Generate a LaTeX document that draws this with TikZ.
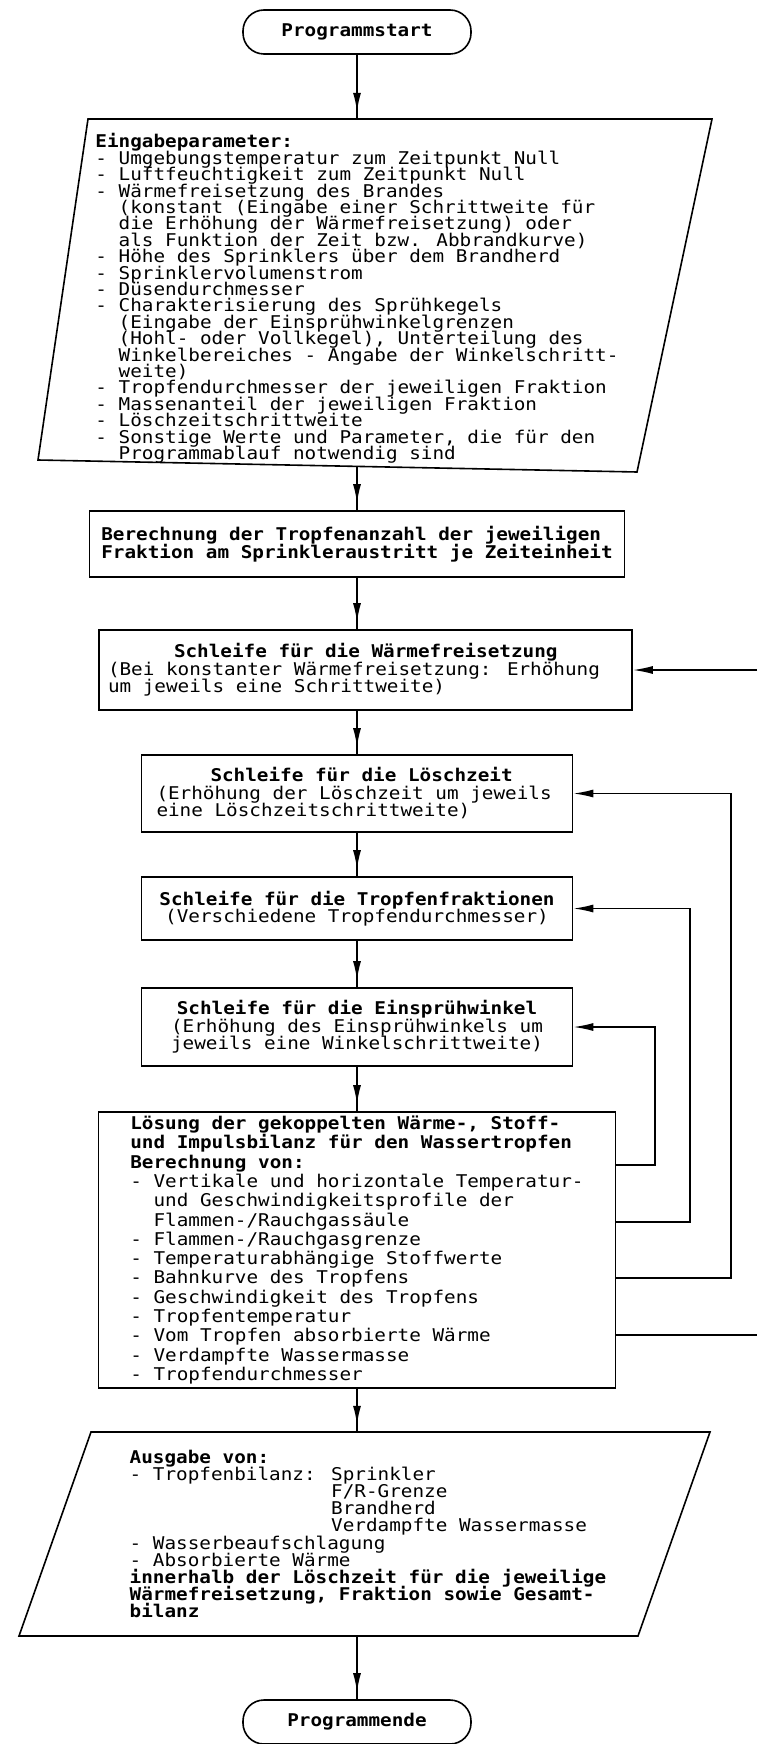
\documentclass[tikz,border=0pt]{standalone}
\usepackage{fontspec}
\setmainfont[FakeStretch=1.1]{DejaVu Sans Mono}
\usepackage{tikz}
\usetikzlibrary{arrows.meta}
\usetikzlibrary{decorations.markings}

% Plotterschrift, fester Zeilenabstand
\newcommand{\plotfont}[1]{\fontsize{17.55}{#1}\selectfont\lineskiplimit=-\maxdimen\relax}
\newcommand{\einr}{\phantom{- }}

\tikzset{
  box/.style={draw, line width=1.6pt, inner sep=0pt},
  startstop/.style={draw, line width=1.6pt, rounded corners=21pt, minimum width=228pt, minimum height=44pt},
  flowarrow/.style={line width=1.6pt, postaction={decorate},
    decoration={markings, mark=at position -7pt with {\arrow{Latex[length=19pt,width=8pt]}}}},
  backflow/.style={line width=1.6pt, -{Latex[length=20pt,width=8pt]}}
}

\begin{document}
\begin{tikzpicture}[x=1pt,y=-1pt,font=\plotfont{17.5}]
    \useasboundingbox (0,0) rectangle (757,1744);

    \node[startstop] (start) at (357,32) {\textbf{Programmstart}};

    \node[inner sep=0pt, minimum height=347pt, align=left, font=\plotfont{16.4}] (eingabe) at (357,292.5) {%
      \rule{0pt}{26pt}\textbf{Eingabeparameter:}\\
      - Umgebungstemperatur zum Zeitpunkt Null\\
      - Luftfeuchtigkeit zum Zeitpunkt Null\\
      - Wärmefreisetzung des Brandes\\
      \einr(konstant (Eingabe einer Schrittweite für\\
      \einr die Erhöhung der Wärmefreisetzung) oder\\
      \einr als Funktion der Zeit bzw. Abbrandkurve)\\
      - Höhe des Sprinklers über dem Brandherd\\
      - Sprinklervolumenstrom\\
      - Düsendurchmesser\\
      - Charakterisierung des Sprühkegels\\
      \einr(Eingabe der Einsprühwinkelgrenzen\\
      \einr(Hohl- oder Vollkegel), Unterteilung des\\
      \einr Winkelbereiches - Angabe der Winkelschritt-\\
      \einr weite)\\
      - Tropfendurchmesser der jeweiligen Fraktion\\
      - Massenanteil der jeweiligen Fraktion\\
      - Löschzeitschrittweite\\
      - Sonstige Werte und Parameter, die für den\\
      \einr Programmablauf notwendig sind};
    \draw[line width=1.6pt] (88,119) -- (712,119) -- (637,472) -- (38,460) -- cycle; % Eingabe

    \node[box, minimum width=535pt, minimum height=66pt, align=left] (anzahl) at (357,544) {%
      \textbf{Berechnung der Tropfenanzahl der jeweiligen}\\
      \textbf{Fraktion am Sprinkleraustritt je Zeiteinheit}};

    \node[box, minimum height=80pt, text width=515pt, inner xsep=9pt, align=flush left] (waerme) at (365.5,670) {%
      \hspace*{66pt}\textbf{Schleife für die Wärmefreisetzung}\\
      (Bei konstanter Wärmefreisetzung: Erhöhung\\
      um jeweils eine Schrittweite)};

    \node[box, minimum height=77pt, text width=401pt, inner xsep=15pt, align=flush left] (loesch) at (357,793.5) {%
      \hspace*{54pt}\textbf{Schleife für die Löschzeit}\\
      (Erhöhung der Löschzeit um jeweils\\
      eine Löschzeitschrittweite)};

    \node[box, minimum width=431pt, minimum height=63pt, align=center] (frakt) at (357,908.5) {%
      \textbf{Schleife für die Tropfenfraktionen}\\
      (Verschiedene Tropfendurchmesser)};

    \node[box, minimum width=431pt, minimum height=78pt, align=center] (winkel) at (357,1027) {%
      \textbf{Schleife für die Einsprühwinkel}\\
      (Erhöhung des Einsprühwinkels um\\
      jeweils eine Winkelschrittweite)};

    \node[box, minimum width=517pt, minimum height=276pt, align=left, font=\plotfont{19.3}] (loesung) at (357,1250) {%
      \textbf{Lösung der gekoppelten Wärme-, Stoff-}\\
      \textbf{und Impulsbilanz für den Wassertropfen}\\
      \textbf{Berechnung von:}\\
      - Vertikale und horizontale Temperatur-\\
      \einr und Geschwindigkeitsprofile der\\
      \einr Flammen-/Rauchgassäule\\
      - Flammen-/Rauchgasgrenze\\
      - Temperaturabhängige Stoffwerte\\
      - Bahnkurve des Tropfens\\
      - Geschwindigkeit des Tropfens\\
      - Tropfentemperatur\\
      - Vom Tropfen absorbierte Wärme\\
      - Verdampfte Wassermasse\\
      - Tropfendurchmesser};

    \node[inner sep=0pt, minimum height=204pt, align=left, font=\plotfont{17.2}] (ausgabe) at (368,1534) {%
      \textbf{Ausgabe von:}\\
      - Tropfenbilanz: Sprinkler\\
      \phantom{- Tropfenbilanz: }F/R-Grenze\\
      \phantom{- Tropfenbilanz: }Brandherd\\
      \phantom{- Tropfenbilanz: }Verdampfte Wassermasse\\
      - Wasserbeaufschlagung\\
      - Absorbierte Wärme\\
      \textbf{innerhalb der Löschzeit für die jeweilige}\\
      \textbf{Wärmefreisetzung, Fraktion sowie Gesamt-}\\
      \textbf{bilanz}};
    \draw[line width=1.6pt] (91,1432) -- (710,1432) -- (638,1636) -- (19,1636) -- cycle; % Ausgabe

    \node[startstop] (ende) at (357,1722) {\textbf{Programmende}};

    \draw[flowarrow] (start) -- (eingabe);
    \draw[flowarrow] (eingabe) -- (anzahl);
    \draw[flowarrow] (anzahl) -- (anzahl |- waerme.north);
    \draw[flowarrow] (loesch |- waerme.south) -- (loesch);
    \draw[flowarrow] (loesch) -- (frakt);
    \draw[flowarrow] (frakt) -- (winkel);
    \draw[flowarrow] (winkel) -- (loesung);
    \draw[flowarrow] (loesung) -- (loesung |- ausgabe.north);
    \draw[flowarrow] (ende |- ausgabe.south) -- (ende);

    % Schleifen
    \draw[backflow] ([yshift=85pt]loesung.east) -- ++(38.5,0) |- (winkel.east);
    \draw[backflow] ([yshift=28pt]loesung.east) -- ++(73.5,0) |- (frakt.east);
    \draw[backflow] ([yshift=-28pt]loesung.east) -- ++(114.5,0) |- (loesch.east);
    \coordinate (rechtsunten) at (757,1335);
    \coordinate (rechtsoben) at (757,670);
    \draw[line width=1.6pt] ([yshift=-85pt]loesung.east) -- (rechtsunten);
    \draw[backflow] (rechtsoben) -- (waerme.east);
\end{tikzpicture}
\end{document}
